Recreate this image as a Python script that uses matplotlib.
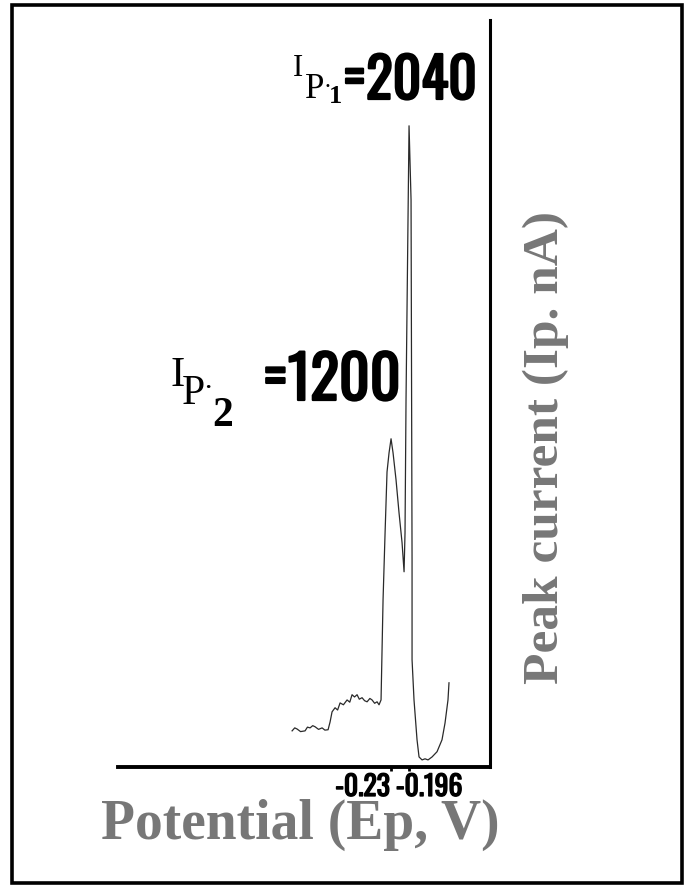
import matplotlib
matplotlib.use("Agg")
import matplotlib.pyplot as plt
import matplotlib.transforms as mtransforms
import matplotlib.patheffects as pe
from matplotlib.patches import Rectangle

W, H = 686, 886

# potential (V) and peak current (nA)
ep = [-0.417, -0.412, -0.4076, -0.401, -0.3925, -0.388, -0.383, -0.378, -0.3736,
      -0.367, -0.3603, -0.355, -0.349, -0.3452, -0.3415, -0.3358, -0.331, -0.3263,
      -0.320, -0.3131, -0.308, -0.3037, -0.299, -0.2942, -0.290, -0.2848, -0.280,
      -0.2753, -0.270, -0.2659, -0.261, -0.2564, -0.2527, -0.2489, -0.2451, -0.2413,
      -0.2376, -0.2338, -0.230, -0.2262, -0.2206, -0.2149, -0.2092, -0.2054, -0.2036,
      -0.2017, -0.196, -0.1922, -0.1903, -0.1903, -0.1866, -0.1809, -0.1771, -0.1714,
      -0.1658, -0.1601, -0.1525, -0.1431, -0.1337, -0.128, -0.1224, -0.1205]
ip = [416, 424, 421, 414, 416, 426, 424, 430, 427,
      420, 424, 418, 419, 440, 467, 478, 472, 491,
      486, 499, 493, 513, 507, 513, 501, 505, 497,
      494, 503, 499, 490, 494, 486, 499, 768, 947,
      1111, 1162, 1200, 1162, 1090, 1001, 921, 843, 947,
      1304, 2040, 1841, 875, 607, 499, 392, 346, 338,
      341, 338, 346, 360, 392, 437, 499, 545]

xticks = [-0.23, -0.196]
xlabels = ["-0.23", "-0.196"]

narrow = ["Oswald", "DejaVu Sans"]
serif = ["Liberation Serif", "DejaVu Serif"]
gray = "#777777"
thick = [pe.withStroke(linewidth=1.6, foreground="black")]

fig = plt.figure(figsize=(W / 100, H / 100), dpi=100)
fig.patch.set_facecolor("white")

def fx(px):
    return px / W

def fy(py):
    return 1 - py / H

ax = fig.add_axes([fx(118), fy(767), fx(490) - fx(118), fy(20) - fy(767)])
ax.plot(ep, ip, color="#2a2a2a", lw=0.9)
ax.set_xlim(-0.746, -0.043)
ax.set_ylim(319, 2324)

for s in ["left", "top"]:
    ax.spines[s].set_visible(False)
ax.spines["bottom"].set_linewidth(2.8)
ax.spines["right"].set_linewidth(2.2)
ax.set_yticks([])
ax.set_xticks(xticks, labels=xlabels)
ax.tick_params(axis="x", direction="out", length=3, width=2, pad=2)
for lab, ha, dx in zip(ax.get_xticklabels(), ["right", "left"], [-1, -13]):
    lab.set_fontfamily(narrow)
    lab.set_fontsize(20)
    lab.set_path_effects([pe.withStroke(linewidth=1.0, foreground="black")])
    lab.set_horizontalalignment(ha)
    lab.set_transform(lab.get_transform() + mtransforms.ScaledTranslation(dx / 100, 0, fig.dpi_scale_trans))

# axis titles
fig.text(fx(300), fy(825), "Potential (Ep, V)", family=serif, weight="bold",
         fontsize=40, color=gray, ha="center", va="center")
fig.text(fx(546), fy(448), "Peak current (Ip. nA)", family=serif, weight="bold",
         fontsize=37, color=gray, ha="center", va="center", rotation=90)

# peak annotations
fig.text(fx(293), fy(76), "I", family=serif, fontsize=22, ha="left", va="baseline")
fig.text(fx(305), fy(98), "P", family=serif, fontsize=25, ha="left", va="baseline")
fig.text(fx(324), fy(92), "·", family=serif, weight="bold", fontsize=13, ha="left", va="baseline")
fig.text(fx(329), fy(103), "1", family=serif, weight="bold", fontsize=19, ha="left", va="baseline")
fig.text(fx(343), fy(99), "=2040", family=narrow, fontsize=40, ha="left", va="baseline",
         path_effects=thick)

fig.text(fx(170), fy(386), "I", family=serif, fontsize=31, ha="left", va="baseline")
fig.text(fx(182), fy(404), "P", family=serif, fontsize=30, ha="left", va="baseline")
fig.text(fx(204), fy(393), "·", family=serif, weight="bold", fontsize=16, ha="left", va="baseline")
fig.text(fx(212), fy(426), "2", family=serif, weight="bold", fontsize=30, ha="left", va="baseline")
fig.text(fx(263), fy(400), "=1200", family=narrow, fontsize=43, ha="left", va="baseline",
         path_effects=thick)

# outer frame
fig.patches.append(Rectangle((fx(12), fy(883)), fx(682) - fx(12), fy(5) - fy(883),
                             transform=fig.transFigure, fill=False, lw=2.6, ec="black"))

fig.savefig("out.png", dpi=100)
